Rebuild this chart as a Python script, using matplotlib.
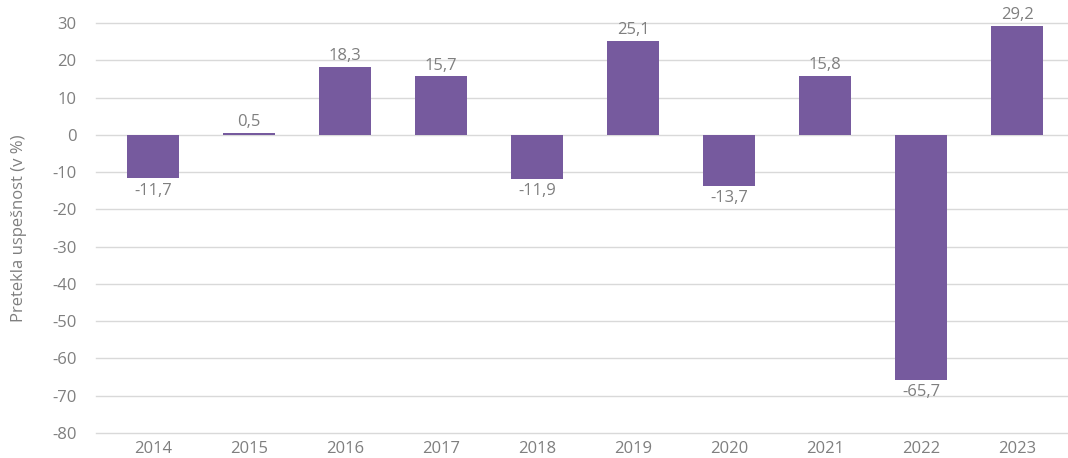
import matplotlib
matplotlib.use("Agg")
import matplotlib.pyplot as plt

years = ["2014", "2015", "2016", "2017", "2018", "2019", "2020", "2021", "2022", "2023"]
values = [-11.7, 0.5, 18.3, 15.7, -11.9, 25.1, -13.7, 15.8, -65.7, 29.2]
yticks = [30, 20, 10, 0, -10, -20, -30, -40, -50, -60, -70, -80]

plt.rcParams['font.family'] = ['Open Sans', 'DejaVu Sans']
grey = '#7f7f7f'
purple = '#765a9e'
fs = 12

fig = plt.figure(figsize=(10.68, 4.58), dpi=100)
ax = fig.add_axes([96/1068, 25/458, 1 - 96/1068, 410/458])

x = list(range(len(years)))
ax.bar(x, values, width=0.55, color=purple, zorder=3)
for xi, v in zip(x, values):
    lab = f"{v:.1f}".replace('.', ',')
    if v >= 0:
        ax.annotate(lab, (xi, v), xytext=(0, 2), textcoords='offset points',
                    ha='center', va='bottom', color=grey, fontsize=fs)
    else:
        ax.annotate(lab, (xi, v), xytext=(0, -3), textcoords='offset points',
                    ha='center', va='top', color=grey, fontsize=fs)

ax.set_ylim(-80, 30)
ax.set_yticks(yticks)
ax.set_yticklabels([str(t) for t in yticks])
ax.set_xlim(-0.594, 9.531)
ax.set_xticks(x)
ax.set_xticklabels(years)
for t in yticks:
    ax.axhline(t, color='#d9d9d9', linewidth=1.0, zorder=0, clip_on=False)
ax.tick_params(axis='both', length=0, colors=grey, labelsize=fs)
ax.tick_params(axis='y', pad=14)
ax.tick_params(axis='x', pad=6)
for s in ax.spines.values():
    s.set_visible(False)
ax.set_ylabel("Pretekla uspešnost (v %)", color=grey, fontsize=fs)
ax.yaxis.set_label_coords(-0.071, 0.5)

fig.savefig("out.png", dpi=100)
